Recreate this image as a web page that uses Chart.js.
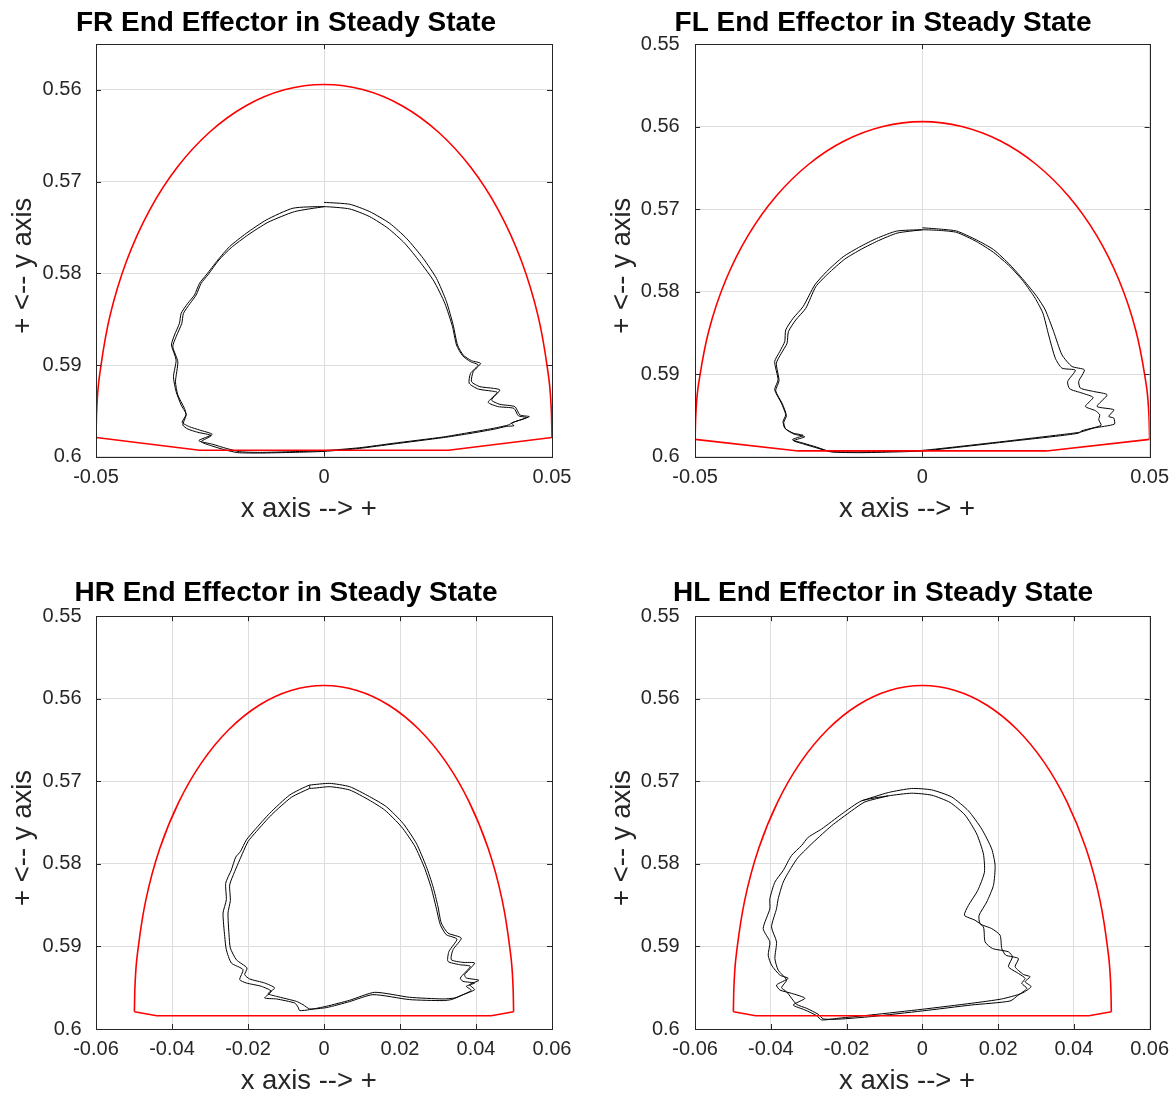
<!DOCTYPE html>
<html>
<head>
<meta charset="utf-8">
<title>End Effector in Steady State</title>
<script src="https://cdn.jsdelivr.net/npm/chart.js@4.4.1/dist/chart.umd.min.js"></script>
<style>
  html, body { margin: 0; padding: 0; background: #fff; overflow: hidden; }
  body { width: 1173px; height: 1095px; position: relative; }
  .panel { position: absolute; }
  .panel canvas { display: block; }
</style>
</head>
<body>
<div class="panel" id="panel-fr"><canvas id="fr-chart"></canvas></div>
<div class="panel" id="panel-fl"><canvas id="fl-chart"></canvas></div>
<div class="panel" id="panel-hr"><canvas id="hr-chart"></canvas></div>
<div class="panel" id="panel-hl"><canvas id="hl-chart"></canvas></div>
<script>
// ---- axis ranges and ticks ----
const frontXRange = [-0.05, 0.05];
const hindXRange = [-0.06, 0.06];
const frYRange = [0.555, 0.6];
const yRange = [0.55, 0.6];
const frontXTicks = [-0.05, 0, 0.05];
const hindXTicks = [-0.06, -0.04, -0.02, 0, 0.02, 0.04, 0.06];
const frYTicks = [0.56, 0.57, 0.58, 0.59, 0.6];
const yTicks = [0.55, 0.56, 0.57, 0.58, 0.59, 0.6];

// ---- workspace boundary (red), [x, y] ----
const frontArc = [
  [-0.05, 0.5979], [-0.04981, 0.59454], [-0.04924, 0.59122], [-0.04698, 0.58473], [-0.0433, 0.57865],
  [-0.0383, 0.57315], [-0.03214, 0.56841], [-0.025, 0.56456], [-0.0171, 0.56172], [-0.00868, 0.55999],
  [0, 0.5594], [0.00868, 0.55999], [0.0171, 0.56172], [0.025, 0.56456], [0.03214, 0.56841],
  [0.0383, 0.57315], [0.0433, 0.57865], [0.04698, 0.58473], [0.04924, 0.59122], [0.04981, 0.59454], [0.05, 0.5979]
];
const frontBase = [[-0.05, 0.5979], [-0.0273, 0.5993], [0.0273, 0.5993], [0.05, 0.5979]];
const hindArc = [
  [-0.0499, 0.5979], [-0.04971, 0.59446], [-0.04914, 0.59104], [-0.04689, 0.58439], [-0.04322, 0.57815],
  [-0.03822, 0.57251], [-0.03208, 0.56764], [-0.02495, 0.56369], [-0.01707, 0.56078], [-0.00867, 0.559],
  [0, 0.5584], [0.00867, 0.559], [0.01707, 0.56078], [0.02495, 0.56369], [0.03208, 0.56764],
  [0.03822, 0.57251], [0.04322, 0.57815], [0.04689, 0.58439], [0.04914, 0.59104], [0.04971, 0.59446], [0.0499, 0.5979]
];
const hindBase = [[-0.0499, 0.5979], [-0.044, 0.5984], [0.044, 0.5984], [0.0499, 0.5979]];

// ---- end effector tracks (black), two cycles each, [x, y] ----
const frTrack = [
  [0, 0.57226], [0.00564, 0.57247], [0.01003, 0.57327], [0.01442, 0.57455], [0.01808, 0.57618], [0.02174, 0.57836],
  [0.02467, 0.58055], [0.02686, 0.58309], [0.02833, 0.58564], [0.02928, 0.58782], [0.03052, 0.58891], [0.03235, 0.58953],
  [0.03433, 0.58982], [0.03272, 0.59073], [0.03235, 0.59182], [0.03418, 0.59236], [0.03711, 0.59254], [0.03858, 0.59273],
  [0.03675, 0.59382], [0.03858, 0.59429], [0.04187, 0.59454], [0.04297, 0.59545], [0.04502, 0.59563], [0.0415, 0.59625],
  [0.04041, 0.59654], [0.03711, 0.59691], [0.03126, 0.59742], [0.02613, 0.59785], [0.01515, 0.59854], [0.00783, 0.59902],
  [0, 0.59934], [-0.00681, 0.59945], [-0.01413, 0.59953], [-0.01852, 0.59945], [-0.02145, 0.59909], [-0.02438, 0.59865],
  [-0.02745, 0.59825], [-0.02452, 0.59756], [-0.0273, 0.59709], [-0.0295, 0.59673], [-0.03111, 0.59625], [-0.03023, 0.59538],
  [-0.03133, 0.59436], [-0.03243, 0.59291], [-0.03301, 0.59127], [-0.03243, 0.58945], [-0.03345, 0.58782], [-0.03279, 0.58673],
  [-0.0317, 0.58545], [-0.03133, 0.58436], [-0.02987, 0.58327], [-0.0284, 0.58236], [-0.0273, 0.58109], [-0.02584, 0.58018],
  [-0.02328, 0.57855], [-0.02072, 0.57709], [-0.01706, 0.57564], [-0.01266, 0.57418], [-0.00681, 0.5729],
  [0, 0.57273], [0.00564, 0.57298], [0.01003, 0.57382], [0.01405, 0.57509], [0.01771, 0.57673], [0.02101, 0.57873],
  [0.02408, 0.58084], [0.0265, 0.58327], [0.02818, 0.58582], [0.02906, 0.58782], [0.03038, 0.58898], [0.03213, 0.58964],
  [0.03382, 0.59], [0.03213, 0.59091], [0.03184, 0.592], [0.03382, 0.59262], [0.03675, 0.59284], [0.03799, 0.59298],
  [0.03601, 0.59407], [0.03821, 0.59454], [0.04165, 0.59473], [0.0426, 0.59553], [0.04443, 0.59574], [0.04114, 0.59633],
  [0.04165, 0.59662], [0.04004, 0.59669], [0.03711, 0.59702], [0.03126, 0.59753], [0.02613, 0.59792], [0.01515, 0.59862],
  [0.00783, 0.59909], [0, 0.59942], [-0.00681, 0.59953], [-0.01413, 0.5996], [-0.01889, 0.59956], [-0.02181, 0.59924],
  [-0.02474, 0.5988], [-0.02694, 0.59836], [-0.02474, 0.5977], [-0.02767, 0.59734], [-0.02987, 0.59698], [-0.03096, 0.59654],
  [-0.03023, 0.59545], [-0.0306, 0.59473], [-0.03206, 0.59327], [-0.03257, 0.59182], [-0.03206, 0.58964], [-0.03316, 0.588],
  [-0.03243, 0.58691], [-0.03118, 0.58545], [-0.03082, 0.58436], [-0.02935, 0.58327], [-0.02803, 0.58236], [-0.02694, 0.58109],
  [-0.02547, 0.58018], [-0.02305, 0.57855], [-0.02035, 0.5772], [-0.01669, 0.57582], [-0.0123, 0.57444], [-0.00644, 0.57327],
  [0, 0.57273]
];
const flTrack = [
  [0, 0.57226], [0.0039, 0.57242], [0.00757, 0.57266], [0.01198, 0.57375], [0.01566, 0.5749], [0.01933, 0.57677],
  [0.02227, 0.57859], [0.02521, 0.5806], [0.02705, 0.58222], [0.02889, 0.58484], [0.03072, 0.58766], [0.03293, 0.58907],
  [0.03565, 0.58948], [0.0344, 0.59089], [0.03477, 0.59169], [0.03771, 0.5921], [0.04065, 0.5925], [0.03844, 0.59391],
  [0.04212, 0.59431], [0.04101, 0.59512], [0.04212, 0.59532], [0.04226, 0.59605], [0.03771, 0.59653], [0.03477, 0.59702],
  [0.03036, 0.59734], [0.01933, 0.59806], [0.00831, 0.59875], [0, 0.59923], [-0.00639, 0.59935], [-0.01374, 0.59943],
  [-0.02036, 0.59935], [-0.0233, 0.59883], [-0.02624, 0.59835], [-0.02859, 0.59794], [-0.02624, 0.59742], [-0.02844, 0.59714],
  [-0.03028, 0.59653], [-0.03065, 0.59573], [-0.03006, 0.59492], [-0.03102, 0.59351], [-0.03249, 0.59189], [-0.03175, 0.59068],
  [-0.03249, 0.58847], [-0.03138, 0.58726], [-0.03028, 0.58605], [-0.03006, 0.58464], [-0.02844, 0.58323], [-0.02624, 0.58181],
  [-0.02367, 0.57919], [-0.02109, 0.57758], [-0.01742, 0.57577], [-0.01374, 0.57456], [-0.01007, 0.57355], [-0.00566, 0.57266],
  [0, 0.5725], [0.0039, 0.57258], [0.00757, 0.57282], [0.01198, 0.57395], [0.01566, 0.57524], [0.01933, 0.57698],
  [0.02227, 0.57879], [0.02484, 0.58081], [0.02653, 0.58262], [0.02778, 0.58524], [0.02925, 0.58806], [0.03072, 0.58927],
  [0.03366, 0.58952], [0.03197, 0.59089], [0.03241, 0.59177], [0.03513, 0.59229], [0.03756, 0.59282], [0.03587, 0.59391],
  [0.03807, 0.59442], [0.03903, 0.59492], [0.03881, 0.59552], [0.03932, 0.5962], [0.03513, 0.59685], [0.0344, 0.59714],
  [0.03036, 0.59746], [0.01933, 0.59814], [0.00831, 0.59883], [0, 0.59931], [-0.00639, 0.59943], [-0.01374, 0.59951],
  [-0.02, 0.59943], [-0.02316, 0.59895], [-0.0261, 0.59847], [-0.02829, 0.59806], [-0.02587, 0.59758], [-0.02822, 0.59726],
  [-0.03006, 0.59665], [-0.0305, 0.59585], [-0.02991, 0.59504], [-0.0308, 0.59359], [-0.03227, 0.59201], [-0.03153, 0.5908],
  [-0.03212, 0.58867], [-0.03102, 0.58746], [-0.02977, 0.58625], [-0.02947, 0.58484], [-0.02785, 0.58343], [-0.02565, 0.58202],
  [-0.02345, 0.5794], [-0.02073, 0.57782], [-0.01705, 0.57605], [-0.01338, 0.57484], [-0.0097, 0.57383], [-0.00551, 0.5729],
  [0, 0.5725]
];
const hrTrack = [
  [-0.00377, 0.57045], [0.00149, 0.57025], [0.00675, 0.57065], [0.01201, 0.57186], [0.0164, 0.57307], [0.02078, 0.57508],
  [0.02429, 0.5775], [0.02692, 0.58032], [0.02868, 0.58274], [0.02999, 0.58516], [0.03087, 0.58717], [0.03262, 0.58838],
  [0.03613, 0.58899], [0.03394, 0.5904], [0.0335, 0.59161], [0.03657, 0.59193], [0.03964, 0.59201], [0.03701, 0.59342],
  [0.03745, 0.59382], [0.04078, 0.5941], [0.03832, 0.59463], [0.03964, 0.59523], [0.03657, 0.59584], [0.03438, 0.59624],
  [0.03131, 0.59636], [0.02254, 0.59616], [0.01333, 0.59556], [0.00675, 0.59652], [0.00061, 0.59725], [-0.00377, 0.59765],
  [-0.0064, 0.59777], [-0.00684, 0.59733], [-0.00772, 0.59685], [-0.01254, 0.59636], [-0.01561, 0.59624], [-0.01386, 0.59543],
  [-0.01649, 0.59483], [-0.02043, 0.59443], [-0.02219, 0.59402], [-0.02131, 0.59281], [-0.02438, 0.59201], [-0.0257, 0.5904],
  [-0.02613, 0.58879], [-0.02657, 0.58596], [-0.0257, 0.58435], [-0.02587, 0.58234], [-0.02438, 0.58073], [-0.02324, 0.57919],
  [-0.02201, 0.57851], [-0.02043, 0.5771], [-0.01824, 0.57589], [-0.01429, 0.57387], [-0.00903, 0.57166], [-0.00377, 0.57045],
  [-0.00377, 0.57085], [0.00149, 0.57065], [0.00675, 0.57105], [0.01184, 0.57226], [0.01596, 0.57347], [0.02035, 0.57549],
  [0.02385, 0.57782], [0.02649, 0.58052], [0.02824, 0.58294], [0.02955, 0.58536], [0.03061, 0.58737], [0.03219, 0.58858],
  [0.03499, 0.58911], [0.03289, 0.5906], [0.03262, 0.59181], [0.03569, 0.59221], [0.0385, 0.59241], [0.03587, 0.59382],
  [0.03657, 0.59423], [0.03964, 0.59443], [0.03745, 0.59483], [0.03876, 0.59531], [0.03569, 0.59604], [0.0335, 0.59644],
  [0.03131, 0.59656], [0.02254, 0.59644], [0.01289, 0.59584], [0.00675, 0.59668], [0.00061, 0.59741], [-0.00377, 0.59757],
  [-0.00553, 0.59705], [-0.00728, 0.59665], [-0.01254, 0.59604], [-0.01473, 0.59572], [-0.01298, 0.59503], [-0.01561, 0.59443],
  [-0.01956, 0.59394], [-0.02087, 0.59342], [-0.02026, 0.59261], [-0.02306, 0.59161], [-0.02464, 0.5902], [-0.02499, 0.58858],
  [-0.02526, 0.58596], [-0.02464, 0.58443], [-0.02482, 0.58254], [-0.0235, 0.58093], [-0.02219, 0.57952], [-0.02, 0.5773],
  [-0.01781, 0.57609], [-0.01386, 0.57408], [-0.00859, 0.57194], [-0.00377, 0.57085]
];
const hlTrack = [
  [-0.01603, 0.57236], [-0.00899, 0.57136], [-0.00282, 0.57087], [0.00247, 0.57104], [0.00775, 0.5719], [0.01216, 0.57357],
  [0.01568, 0.57578], [0.01832, 0.57819], [0.01921, 0.5802], [0.01877, 0.58261], [0.017, 0.58462], [0.01498, 0.58623],
  [0.01524, 0.58724], [0.01832, 0.58784], [0.02053, 0.58864], [0.02097, 0.59025], [0.02203, 0.59106], [0.02537, 0.59146],
  [0.02449, 0.59246], [0.02669, 0.59339], [0.02846, 0.59367], [0.02713, 0.59427], [0.02872, 0.59487], [0.02625, 0.59568],
  [0.02097, 0.59636], [0.01304, 0.59688], [0, 0.59761], [-0.01339, 0.59829], [-0.0222, 0.5987], [-0.02661, 0.5989],
  [-0.02793, 0.59838], [-0.03101, 0.59769], [-0.0341, 0.59709], [-0.03101, 0.59628], [-0.03454, 0.59568], [-0.03762, 0.59528],
  [-0.0385, 0.59467], [-0.03542, 0.59387], [-0.03762, 0.59347], [-0.03982, 0.59226], [-0.0407, 0.59106], [-0.04026, 0.58945],
  [-0.04202, 0.58784], [-0.04026, 0.58543], [-0.04026, 0.58422], [-0.03894, 0.58221], [-0.03674, 0.5808], [-0.03454, 0.57899],
  [-0.03189, 0.57778], [-0.03013, 0.57678], [-0.02661, 0.57578], [-0.02132, 0.57397], [-0.01603, 0.57236],
  [-0.00899, 0.57176], [-0.00282, 0.57144], [0.00247, 0.57168], [0.00731, 0.57256], [0.01128, 0.57409], [0.01436, 0.57638],
  [0.01612, 0.57879], [0.01639, 0.58101], [0.01462, 0.58322], [0.01216, 0.58503], [0.0111, 0.58623], [0.01392, 0.58683],
  [0.01612, 0.58764], [0.01656, 0.58945], [0.0185, 0.59025], [0.02273, 0.59065], [0.02379, 0.59126], [0.02273, 0.59246],
  [0.02537, 0.59327], [0.02713, 0.59387], [0.02625, 0.59447], [0.02758, 0.59508], [0.02537, 0.59588], [0.02317, 0.59661],
  [0.01304, 0.59709], [0, 0.59781], [-0.01339, 0.59849], [-0.0222, 0.59881], [-0.02617, 0.59877], [-0.02749, 0.59822],
  [-0.03057, 0.59749], [-0.03321, 0.59701], [-0.03586, 0.59548], [-0.03718, 0.59499], [-0.03586, 0.59407], [-0.03806, 0.59287],
  [-0.03894, 0.59146], [-0.0385, 0.58945], [-0.03982, 0.58764], [-0.0385, 0.58543], [-0.03806, 0.58422], [-0.03674, 0.58221],
  [-0.03454, 0.5804], [-0.03277, 0.5792], [-0.02881, 0.57739], [-0.02396, 0.57538], [-0.01868, 0.57357], [-0.01515, 0.57249],
  [-0.00899, 0.57176]
];

// ---- look ----
const FONT = '"Liberation Sans", Arial, Helvetica, sans-serif';
const AXIS_COLOR = '#262626';
const GRID_COLOR = '#dedede';
const TICK_LEN = 5;
// Octave sets its axis labels a little off centre; trailing blanks reproduce that offset
const X_LABEL = 'x axis --> +    ';
const Y_LABEL = '+ <-- y axis    ';

// Page geometry for the 2x2 grid (px)
const columns = {
  left:  { canvasLeft: 0,   width: 586, padRight: 14, yAxisWidth: 96,   rightGap: 20,   yTickPad: 14.5, yTitlePad: 6.5 },
  right: { canvasLeft: 600, width: 582, padRight: 16, yAxisWidth: 95.1, rightGap: 16.4, yTickPad: 15.4, yTitlePad: 6 }
};
const rows = {
  top:    { canvasTop: 0,   height: 560, titlePad: { top: 6.1, bottom: 4.4 }, xAxisHeight: 103.3 },
  bottom: { canvasTop: 572, height: 560, titlePad: { top: 4.9, bottom: 5.7 }, xAxisHeight: 103 }
};

const panels = [
  { id: 'fr', title: 'FR End Effector in Steady State', col: 'left', row: 'top',
    track: frTrack, arc: frontArc, base: frontBase, xRange: frontXRange, yRange: frYRange, xTicks: frontXTicks, yTicks: frYTicks },
  { id: 'fl', title: 'FL End Effector in Steady State', col: 'right', row: 'top',
    track: flTrack, arc: frontArc, base: frontBase, xRange: frontXRange, yRange: yRange, xTicks: frontXTicks, yTicks: yTicks },
  { id: 'hr', title: 'HR End Effector in Steady State', col: 'left', row: 'bottom',
    track: hrTrack, arc: hindArc, base: hindBase, xRange: hindXRange, yRange: yRange, xTicks: hindXTicks, yTicks: yTicks },
  { id: 'hl', title: 'HL End Effector in Steady State', col: 'right', row: 'bottom',
    track: hlTrack, arc: hindArc, base: hindBase, xRange: hindXRange, yRange: yRange, xTicks: hindXTicks, yTicks: yTicks }
];

/**
 * Octave style axes box with inward tick marks on all four sides
 */
const boxPlugin = {
  id: 'octaveBox',
  afterDatasetsDraw(chart) {
    const { ctx, chartArea: a, scales: { x, y } } = chart;
    ctx.save();
    ctx.strokeStyle = AXIS_COLOR;
    ctx.lineWidth = 1;
    ctx.beginPath();
    x.ticks.forEach(t => {
      const px = Math.round(x.getPixelForValue(t.value)) + 0.5;
      ctx.moveTo(px, a.bottom); ctx.lineTo(px, a.bottom - TICK_LEN);
      ctx.moveTo(px, a.top); ctx.lineTo(px, a.top + TICK_LEN);
    });
    y.ticks.forEach(t => {
      const py = Math.round(y.getPixelForValue(t.value)) + 0.5;
      ctx.moveTo(a.left, py); ctx.lineTo(a.left + TICK_LEN, py);
      ctx.moveTo(a.right, py); ctx.lineTo(a.right - TICK_LEN, py);
    });
    ctx.stroke();
    ctx.strokeRect(Math.round(a.left) + 0.5, Math.round(a.top) + 0.5,
      Math.round(a.right - a.left), Math.round(a.bottom - a.top));
    ctx.restore();
  }
};

const toPoints = pairs => pairs.map(([x, y]) => ({ x, y }));

function lineSet(pairs, color, width, tension) {
  return {
    data: toPoints(pairs),
    showLine: true,
    borderColor: color,
    borderWidth: width,
    pointRadius: 0,
    pointHoverRadius: 0,
    fill: false,
    tension
  };
}

/**
 * Build one subplot
 */
function initPanel(p) {
  const col = columns[p.col];
  const row = rows[p.row];
  const wrap = document.getElementById(`panel-${p.id}`);
  wrap.style.left = `${col.canvasLeft}px`;
  wrap.style.top = `${row.canvasTop}px`;
  const canvas = document.getElementById(`${p.id}-chart`);
  canvas.width = col.width;
  canvas.height = row.height;

  return new Chart(canvas, {
    type: 'scatter',
    data: {
      datasets: [
        lineSet(p.arc, '#ff0000', 1.6, 0.4),
        lineSet(p.base, '#ff0000', 1.6, 0),
        lineSet(p.track, '#000000', 1, 0.2)
      ]
    },
    options: {
      responsive: false,
      animation: false,
      devicePixelRatio: 1,
      layout: { padding: { left: 0, right: col.padRight, top: 0, bottom: 0 } },
      plugins: {
        legend: { display: false },
        tooltip: { enabled: false },
        title: {
          display: true,
          text: p.title,
          color: '#000',
          font: { family: FONT, size: 28, weight: 'bold', lineHeight: 1.2 },
          padding: row.titlePad
        }
      },
      scales: {
        x: {
          type: 'linear',
          min: p.xRange[0],
          max: p.xRange[1],
          afterBuildTicks: s => { s.ticks = p.xTicks.map(v => ({ value: v })); },
          afterFit: s => { s.height = row.xAxisHeight; },
          grid: { color: GRID_COLOR, drawTicks: false },
          border: { display: false },
          ticks: {
            padding: 8.8, color: AXIS_COLOR, maxRotation: 0, autoSkip: false,
            font: { family: FONT, size: 20 },
            callback: v => String(v)
          },
          title: {
            display: true, text: X_LABEL, color: AXIS_COLOR,
            font: { family: FONT, size: 27.5, lineHeight: 1.2 },
            padding: { top: 0, bottom: 34 }
          }
        },
        y: {
          type: 'linear',
          reverse: true,
          min: p.yRange[0],
          max: p.yRange[1],
          afterBuildTicks: s => { s.ticks = p.yTicks.map(v => ({ value: v })); },
          afterFit: s => { s.width = col.yAxisWidth; },
          grid: { color: GRID_COLOR, drawTicks: false },
          border: { display: false },
          ticks: {
            padding: col.yTickPad, color: AXIS_COLOR, autoSkip: false,
            font: { family: FONT, size: 20 },
            callback: v => String(v)
          },
          title: {
            display: true, text: Y_LABEL, color: AXIS_COLOR,
            font: { family: FONT, size: 27.5, lineHeight: 1.2 },
            padding: { top: col.yTitlePad, bottom: 0 }
          }
        },
        // empty strip on the right so the plot box ends where the figure's does
        yGap: {
          type: 'linear',
          position: 'right',
          display: true,
          grid: { display: false },
          border: { display: false },
          ticks: { display: false },
          afterFit: s => { s.width = col.rightGap; }
        }
      }
    },
    plugins: [boxPlugin]
  });
}

const charts = {};
panels.forEach(p => { charts[p.id] = initPanel(p); });
</script>
</body>
</html>
